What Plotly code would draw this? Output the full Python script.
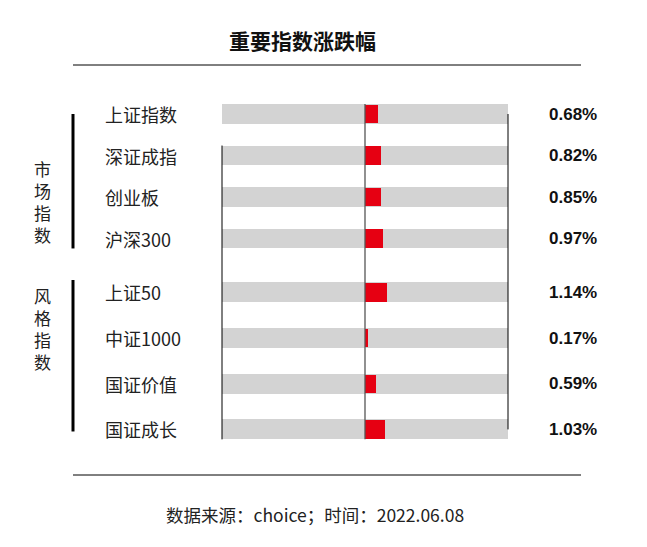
import plotly.graph_objects as go

# ---------------- data ----------------
title_text = "重要指数涨跌幅"
footer_text = "数据来源：choice；时间：2022.06.08"
group_names = ["市场指数", "风格指数"]
market_names = ["上证指数", "深证成指", "创业板", "沪深300"]
market_values = [0.68, 0.82, 0.85, 0.97]
style_names = ["上证50", "中证1000", "国证价值", "国证成长"]
style_values = [1.14, 0.17, 0.59, 1.03]
x_limit = 7.5  # half range of the value axis (percent)

# ---------------- layout constants ----------------
W, H = 647, 547
CJK = "Noto Sans CJK SC, Noto Sans, sans-serif"
NUM = "Liberation Sans, Arial, sans-serif"
RED = "#e60012"
GRAY = "#d3d3d3"

# row positions (category slots), second group separated by a gap
group_gap = 0.3
group2_step = 1.1
pos1 = [i * 1.0 for i in range(len(market_names))]
pos2 = [len(market_names) + group_gap + j * group2_step for j in range(len(style_names))]
names = market_names + style_names
values = market_values + style_values
pos = pos1 + pos2

unit_px = 41.5
row0_px = 114
y_top = -row0_px / unit_px
y_bot = (H - row0_px) / unit_px

x0_px, x1_px = 222, 508


def px(x):
    return x / W


def py(y):
    return 1 - y / H


def ypx(p):
    return row0_px + p * unit_px


fig = go.Figure()
fig.add_trace(go.Bar(
    y=pos, x=[2 * x_limit] * len(pos), base=[-x_limit] * len(pos),
    orientation="h", marker=dict(color=GRAY, line=dict(width=0)),
    width=0.48, hoverinfo="skip", showlegend=False))
fig.add_trace(go.Bar(
    y=pos, x=values, orientation="h",
    marker=dict(color=RED, line=dict(width=0)),
    width=0.44, showlegend=False))

shapes = []
line_black = dict(color="black", width=1)
# title rule and bottom rule
shapes.append(dict(type="line", xref="paper", yref="paper", x0=px(73), x1=px(581),
                   y0=py(65), y1=py(65), line=line_black))
shapes.append(dict(type="line", xref="paper", yref="paper", x0=px(73), x1=px(581),
                   y0=py(475), y1=py(475), line=line_black))
# zero line
shapes.append(dict(type="line", xref="x", yref="y", x0=0, x1=0,
                   y0=pos[0] - 0.24, y1=pos[-1] + 0.24, line=dict(color="#555555", width=1.3),
                   layer="above"))
# decorative frame lines
shapes.append(dict(type="line", xref="paper", yref="y", x0=px(x1_px), x1=px(x1_px),
                   y0=pos[0], y1=pos[-1], line=line_black, layer="above"))
shapes.append(dict(type="line", xref="paper", yref="y", x0=px(x0_px), x1=px(x0_px),
                   y0=pos[1] - 0.24, y1=pos[-1] + 0.24, line=line_black, layer="above"))
# group brackets
shapes.append(dict(type="line", xref="paper", yref="y", x0=px(73), x1=px(73),
                   y0=pos1[0], y1=pos1[-1] + 0.24, line=dict(color="black", width=3)))
shapes.append(dict(type="line", xref="paper", yref="y", x0=px(73), x1=px(73),
                   y0=pos2[0] - 0.3, y1=pos2[-1] + 0.05, line=dict(color="black", width=3)))

ann = []
ann.append(dict(text=f"<b>{title_text}</b>", x=px(302), y=py(40), xref="paper", yref="paper",
                xanchor="center", yanchor="middle",
                showarrow=False, font=dict(family=CJK, size=21, color="#111111")))
ann.append(dict(text=footer_text, x=px(315), y=py(514), xref="paper", yref="paper",
                xanchor="center", yanchor="middle",
                showarrow=False, font=dict(family=CJK, size=17.5, color="#222222")))
for n, p in zip(names, pos):
    ann.append(dict(text=n, x=px(103), y=p, xref="paper", yref="y", xanchor="left",
                    yanchor="middle",
                    showarrow=False, font=dict(family=CJK, size=18, color="#222222")))
for v, p in zip(values, pos):
    ann.append(dict(text=f"<b>{v:.2f}%</b>", x=px(573), y=p, xref="paper", yref="y",
                    xanchor="center", yanchor="middle",
                    showarrow=False, font=dict(family=NUM, size=17, color="#111111")))
# vertical group labels (one character per line)
group_centers = [201, 328]
for g, c in zip(group_names, group_centers):
    ann.append(dict(text="<br>".join(g), x=px(42), y=py(c), xref="paper", yref="paper",
                    xanchor="center", yanchor="middle",
                    showarrow=False, font=dict(family=CJK, size=17, color="#222222")))

fig.update_layout(
    width=W, height=H, autosize=False,
    margin=dict(l=0, r=0, t=0, b=0),
    paper_bgcolor="white", plot_bgcolor="white",
    barmode="overlay", bargap=0,
    xaxis=dict(domain=[px(x0_px), px(x1_px)], range=[-x_limit, x_limit], visible=False,
               fixedrange=True),
    yaxis=dict(domain=[0, 1], range=[y_bot, y_top], visible=False, fixedrange=True),
    shapes=shapes, annotations=ann, showlegend=False,
)

fig.write_html("out.html")
